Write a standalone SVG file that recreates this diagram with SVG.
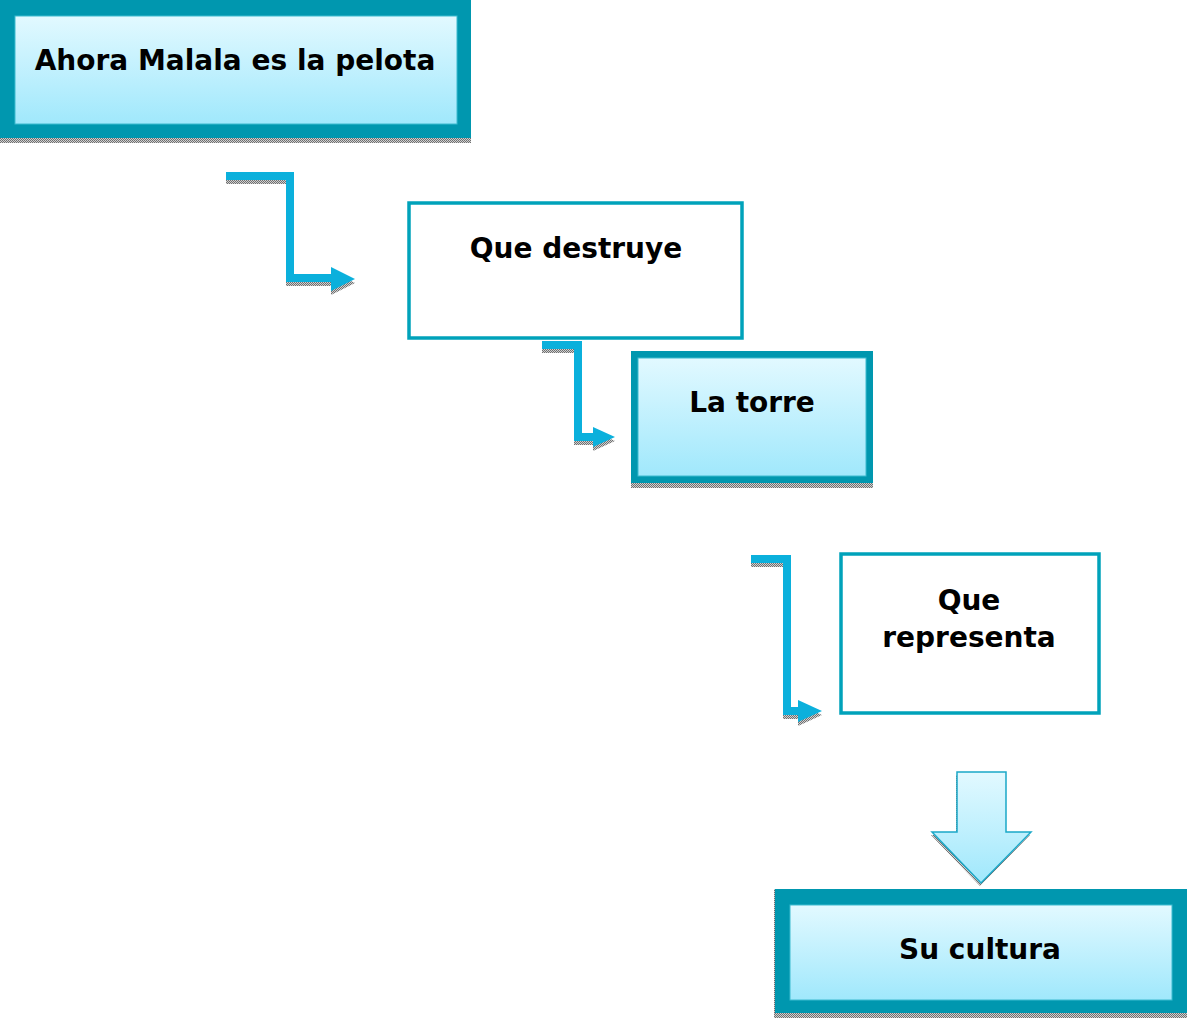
<svg xmlns="http://www.w3.org/2000/svg" width="1187" height="1020" viewBox="0 0 1187 1020">
  <defs>
    <linearGradient id="lb" x1="0" y1="0" x2="0" y2="1">
      <stop offset="0" stop-color="#E2F9FF"/>
      <stop offset="1" stop-color="#A0E8FC"/>
    </linearGradient>
    <pattern id="hatch" width="2" height="2" patternUnits="userSpaceOnUse">
      <rect width="2" height="2" fill="#d0d0d0"/>
      <rect width="1" height="1" fill="#707070"/>
      <rect x="1" y="1" width="1" height="1" fill="#707070"/>
    </pattern>
    <style>
      .frame { fill: #0097AF; }
      .inner { fill: url(#lb); stroke: #3DBBD0; stroke-width: 1; }
      .plain { fill: #ffffff; stroke: #00A2BA; stroke-width: 3.5; }
      .shadow { fill: url(#hatch); }
      .lbl { font-family: "DejaVu Sans", Verdana, sans-serif; font-weight: bold; font-size: 28px; fill: #000; text-anchor: middle; }
      .elbow { fill: none; stroke: #0BB0DC; stroke-width: 8; }
      .elbowS { fill: none; stroke: url(#hatch); stroke-width: 8; }
      .head { fill: #0BB0DC; }
      .headS { fill: url(#hatch); }
    </style>
  </defs>

  <g id="connectors">
    <!-- elbow 1 -->
    <g transform="translate(0,4)">
      <path class="elbowS" d="M226,176 H290 V278 H334"/>
      <polygon class="headS" points="331,267 355,279 331,291"/>
    </g>
    <path class="elbow" d="M226,176 H290 V278 H334"/>
    <polygon class="head" points="331,267 355,279 331,291"/>

    <!-- elbow 2 -->
    <g transform="translate(0,4)">
      <path class="elbowS" d="M542,345 H578 V437 H596"/>
      <polygon class="headS" points="593,427 615,437 593,447"/>
    </g>
    <path class="elbow" d="M542,345 H578 V437 H596"/>
    <polygon class="head" points="593,427 615,437 593,447"/>

    <!-- elbow 3 -->
    <g transform="translate(0,4)">
      <path class="elbowS" d="M751,559 H787 V711 H801"/>
      <polygon class="headS" points="798,700 822,711 798,722"/>
    </g>
    <path class="elbow" d="M751,559 H787 V711 H801"/>
    <polygon class="head" points="798,700 822,711 798,722"/>

    <!-- down block arrow -->
    <polygon class="shadow" transform="translate(-1,3)" points="957,772 1006,772 1006,832 1031,832 981,883 932,832 957,832"/>
    <polygon fill="url(#lb)" stroke="#1AA8C8" stroke-width="1.5" points="957,772 1006,772 1006,832 1031,832 981,883 932,832 957,832"/>
  </g>

  <g id="node1">
    <rect class="shadow" x="0" y="138" width="471" height="5"/>
    <rect class="frame" x="0" y="0" width="471" height="138"/>
    <rect class="inner" x="15" y="16" width="442" height="108"/>
    <text class="lbl" x="235" y="70">Ahora Malala es la pelota</text>
  </g>

  <g id="node2">
    <rect class="plain" x="409" y="203" width="333" height="135"/>
    <text class="lbl" x="576" y="258">Que destruye</text>
  </g>

  <g id="node3">
    <rect class="shadow" x="631" y="483" width="242" height="5"/>
    <rect class="frame" x="631" y="351" width="242" height="132"/>
    <rect class="inner" x="638" y="358" width="228" height="118"/>
    <text class="lbl" x="752" y="412">La torre</text>
  </g>

  <g id="node4">
    <rect class="plain" x="841" y="554" width="258" height="159"/>
    <text class="lbl" x="969" y="610">Que</text>
    <text class="lbl" x="969" y="647">representa</text>
  </g>

  <g id="node5">
    <rect class="shadow" x="774" y="1013" width="413" height="5"/>
    <rect class="shadow" x="774" y="889" width="2" height="124"/>
    <rect class="frame" x="775" y="889" width="412" height="124"/>
    <rect class="inner" x="790" y="905" width="382" height="95"/>
    <text class="lbl" x="980" y="959">Su cultura</text>
  </g>
</svg>
